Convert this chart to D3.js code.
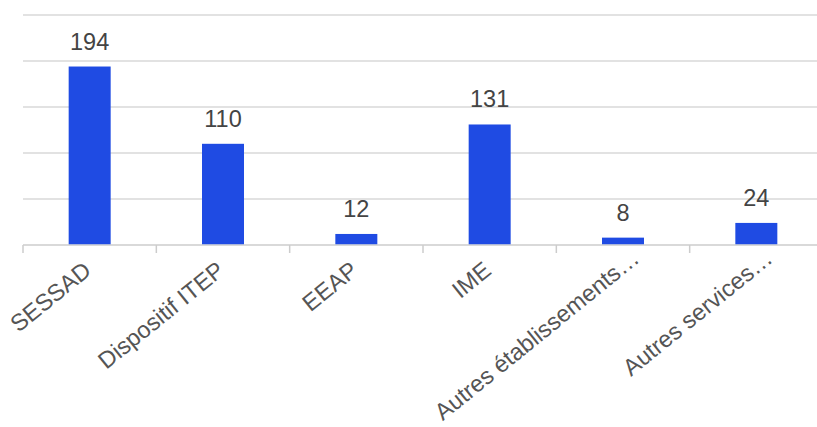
<!DOCTYPE html>
<html><head><meta charset="utf-8">
<script src="https://cdn.jsdelivr.net/npm/d3@7"></script>
<style>body{margin:0;background:#fff;}svg{display:block;}</style>
</head><body>
<svg id="c" width="817" height="427"></svg>
<script>
const categories = ["SESSAD","Dispositif ITEP","EEAP","IME","Autres établissements…","Autres services…"];
const values = [194,110,12,131,8,24];
const yTicks = [0,50,100,150,200,250];

const svg = d3.select("#c");
const x = d3.scaleBand().domain(categories).range([23,823]).paddingInner(0.685).paddingOuter(0.3425);
const y = d3.scaleLinear().domain([0,250]).range([245,15]);

svg.append("g").selectAll("line").data(yTicks).join("line")
  .attr("x1",23).attr("x2",823)
  .attr("y1",d=>y(d)).attr("y2",d=>y(d))
  .attr("stroke",d=>d===0?"#cccccc":"#d9d9d9").attr("stroke-width",1.5);

const step = x.step();
const bounds = categories.map((c,i)=>x.range()[0]+i*step);
svg.append("g").selectAll("line").data(bounds).join("line")
  .attr("x1",d=>d).attr("x2",d=>d).attr("y1",y(0)).attr("y2",y(0)+8)
  .attr("stroke","#cccccc").attr("stroke-width",1.5);

svg.append("g").selectAll("rect").data(values).join("rect")
  .attr("x",(d,i)=>x(categories[i])).attr("width",x.bandwidth())
  .attr("y",d=>y(d)).attr("height",d=>y(0)-y(d)-0.75)
  .attr("fill","#1f4be3");

svg.append("g").selectAll("text").data(values).join("text")
  .attr("x",(d,i)=>x(categories[i])+x.bandwidth()/2)
  .attr("y",d=>y(d)-17)
  .attr("text-anchor","middle")
  .attr("font-family","Liberation Sans, Arial, sans-serif")
  .attr("font-size",23.5).attr("fill","#444444")
  .text(d=>d);

svg.append("g").selectAll("text").data(categories).join("text")
  .attr("transform",d=>`translate(${x(d)+x.bandwidth()/2+3},${273}) rotate(-39)`)
  .attr("dx",d=>d.endsWith("…")?19:0)
  .attr("text-anchor","end")
  .attr("font-family","Liberation Sans, Arial, sans-serif")
  .attr("font-size",23.5).attr("fill","#555555")
  .text(d=>d);
</script>
</body></html>
